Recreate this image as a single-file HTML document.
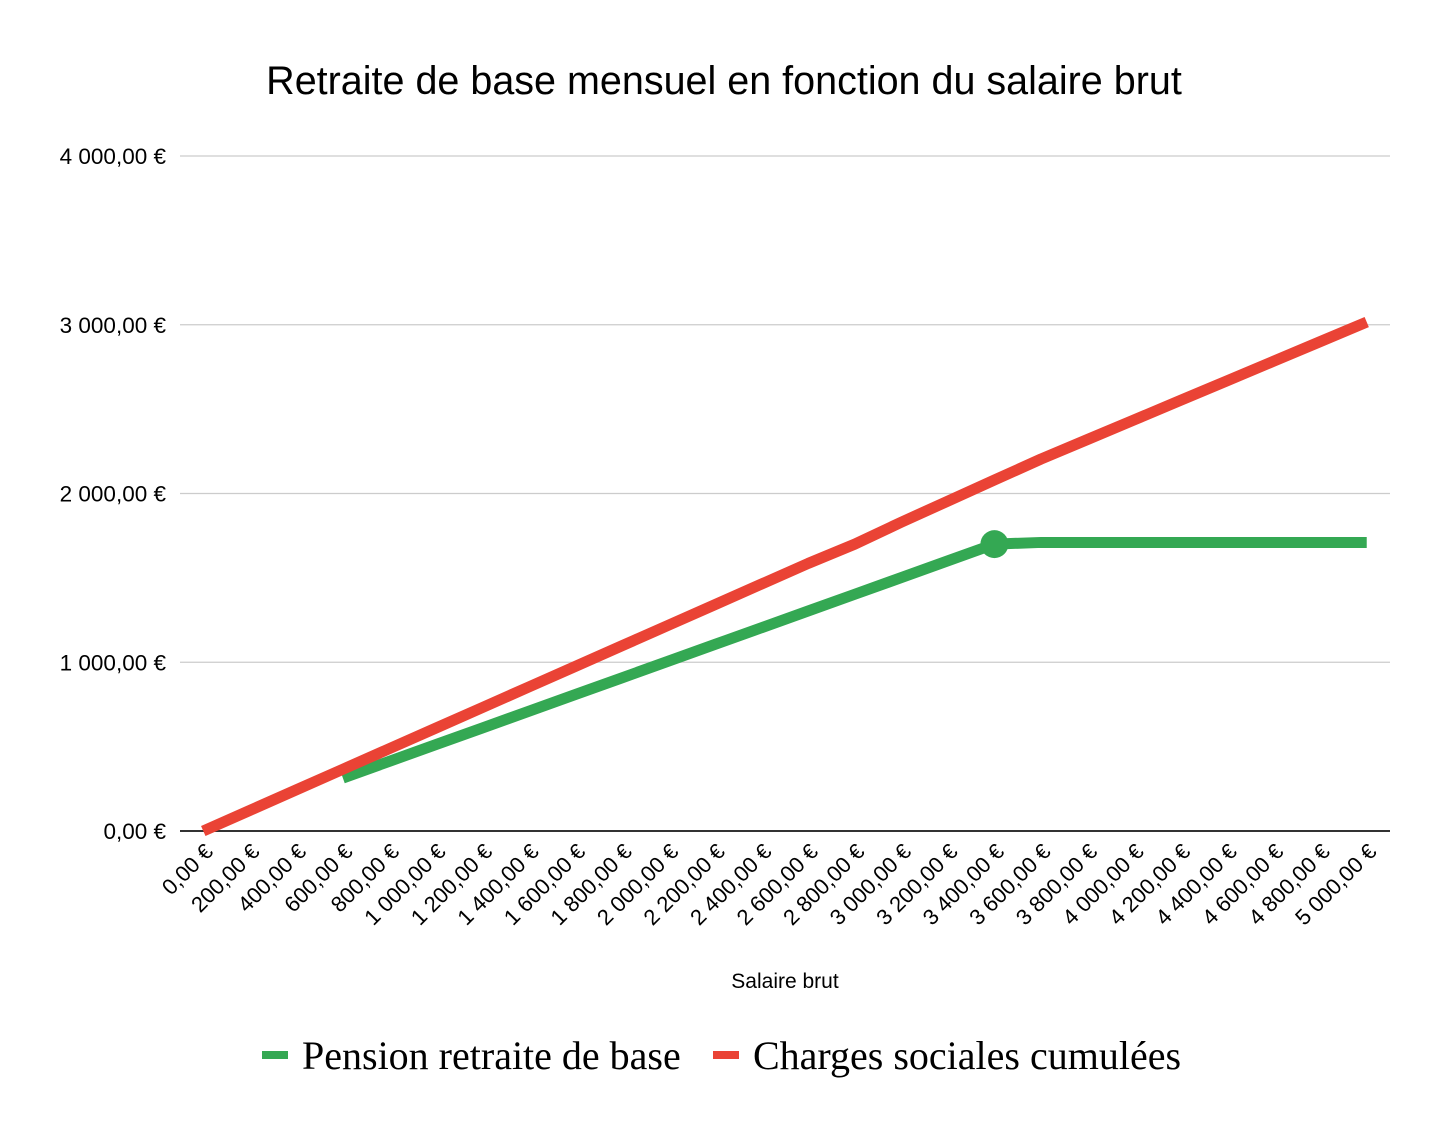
<!DOCTYPE html>
<html><head><meta charset="utf-8"><style>
body{margin:0;background:#fff}
svg text{font-family:"Liberation Sans",Arial,sans-serif}
</style></head><body>
<svg id="chart" width="1448" height="1136" xmlns="http://www.w3.org/2000/svg">
<rect width="1448" height="1136" fill="#fff"/>
<text x="724" y="94" font-size="39.5" text-anchor="middle" fill="#000">Retraite de base mensuel en fonction du salaire brut</text>
<g id="grid"></g>
<g id="xlabels"></g>
<g id="series"></g>
<text x="785" y="988" font-size="21" text-anchor="middle">Salaire brut</text>
<g>
<g><rect x="262" y="1051" width="26" height="8" fill="#34a853"/><text x="302" y="1069" font-size="40" style="font-family:'Liberation Serif',serif">Pension retraite de base</text></g>
<g><rect x="713" y="1051" width="26" height="8" fill="#ea4335"/><text x="753" y="1069" font-size="40" style="font-family:'Liberation Serif',serif">Charges sociales cumulées</text></g>
</g>
</svg>
<script>
const categories=[0,200,400,600,800,1000,1200,1400,1600,1800,2000,2200,2400,2600,2800,3000,3200,3400,3600,3800,4000,4200,4400,4600,4800,5000];
const pension=[null,null,null,314,413,512,611,710,809,908,1007,1106,1205,1304,1403,1502,1601,1700,1710,1710,1710,1710,1710,1710,1710,1710];
const charges=[0,122,244,366,488,610,732,854,976,1098,1220,1342,1464,1586,1700,1830,1955,2080,2204,2320,2436,2552,2668,2784,2900,3016];
const yTicks=[0,1000,2000,3000,4000];
const NS='http://www.w3.org/2000/svg';
const L=180,R=1390,Y0=831,PX=0.16875;
const bw=(R-L)/categories.length;
const xs=i=>L+bw*(i+0.5);
const ys=v=>Y0-v*PX;
const fmt=v=>{let s=String(v).replace(/\B(?=(\d{3})+(?!\d))/g,' ');return s+',00 €';};
function mk(t,a,p){const e=document.createElementNS(NS,t);for(const k in a)e.setAttribute(k,a[k]);p.appendChild(e);return e;}
const grid=document.getElementById('grid');
yTicks.forEach(v=>{
 const ln=mk('line',{x1:L,x2:R,y1:ys(v),y2:ys(v),stroke:v===0?'#333':'#ccc','stroke-width':v===0?2:1.3},grid);
 
 
 const t=mk('text',{x:166,y:ys(v)+8,'font-size':22.5,'text-anchor':'end'},grid);
 t.textContent=fmt(v);
 
 
});
const xl=document.getElementById('xlabels');
categories.forEach((c,i)=>{
 const x=xs(i)+11,y=853;
 const t=mk('text',{x:x,y:y,'font-size':22,'text-anchor':'end',transform:`rotate(-45 ${x} ${y})`},xl);
 t.textContent=fmt(c);
 
 
});
const sg=document.getElementById('series');
function line(arr,color,name){
 const pts=[];arr.forEach((v,i)=>{if(v!==null)pts.push(xs(i)+','+ys(v));});
 const p=mk('polyline',{points:pts.join(' '),fill:'none',stroke:color,'stroke-width':11,'stroke-linejoin':'round'},sg);
 
 
}
line(pension,'#34a853','pension-line');
line(charges,'#ea4335','charges-line');
const mi=17;
const m=mk('circle',{cx:xs(mi),cy:ys(pension[mi]),r:14,fill:'#34a853'},sg);


</script>
</body></html>
